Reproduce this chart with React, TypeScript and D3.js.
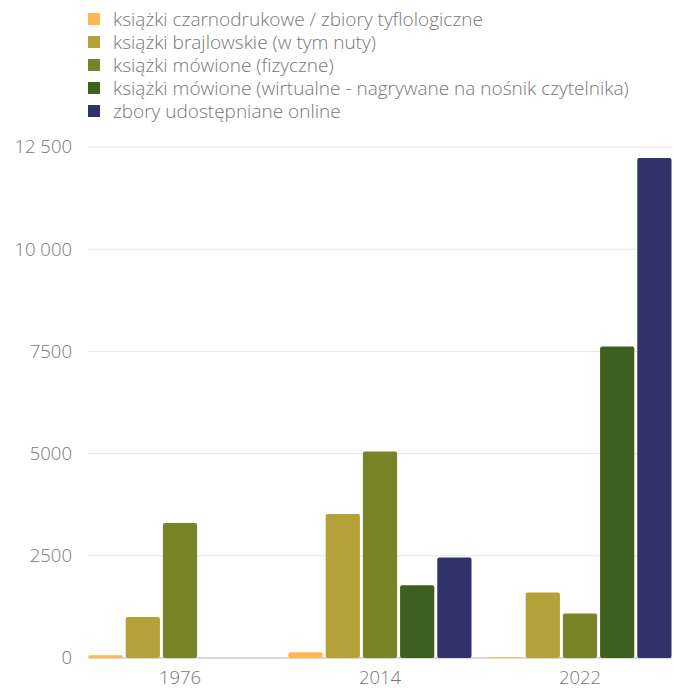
import React from "react";
import * as d3 from "d3";

const years = ["1976", "2014", "2022"];
const seriesNames = [
  "książki czarnodrukowe / zbiory tyflologiczne",
  "książki brajlowskie (w tym nuty)",
  "książki mówione (fizyczne)",
  "książki mówione (wirtualne - nagrywane na nośnik czytelnika)",
  "zbory udostępniane online",
];
const seriesColors = ["#ffb84f", "#b5a13a", "#788427", "#3d601e", "#2f336a"];
const czarnodrukowe = [70, 140, 20];
const brajlowskie = [1000, 3520, 1600];
const mowioneFizyczne = [3300, 5050, 1090];
const mowioneWirtualne = [0, 1780, 7620];
const online = [0, 2460, 12230];
const yTicks = [0, 2500, 5000, 7500, 10000, 12500];

const seriesValues = [czarnodrukowe, brajlowskie, mowioneFizyczne, mowioneWirtualne, online];

const W = 673;
const H = 688;
const font = "'Open Sans', sans-serif";
const fs = 18.5;
const legendFs = 19;
const fw = 300;
const txt = "#777777";

const fmt = (v: number) => {
  if (v >= 10000) {
    const s = String(v);
    return s.slice(0, s.length - 3) + " " + s.slice(s.length - 3);
  }
  return String(v);
};

export default function App() {
  const x0 = d3.scaleBand<string>().domain(years).range([80, 680]).paddingInner(0.085).paddingOuter(0.0425);
  const x1 = d3
    .scaleBand<number>()
    .domain(d3.range(seriesNames.length))
    .range([0, x0.bandwidth()])
    .paddingInner(0.08);
  const y = d3.scaleLinear().domain([0, 12500]).range([658, 147]);

  return (
    <svg
      width={W}
      height={H}
      style={{ position: "absolute", left: 0, top: 0, background: "#fff" }}
      fontFamily={font}
    >
      {/* legend */}
      {seriesNames.map((name, i) => (
        <g key={name} transform={`translate(88, ${19 + i * 23})`}>
          <rect x={0} y={-6} width={12} height={12} fill={seriesColors[i]} />
          <text x={25} y={0} dy="0.35em" fontSize={legendFs} fontWeight={fw} fill={txt}>
            {name}
          </text>
        </g>
      ))}

      {/* gridlines and y labels */}
      {yTicks.map((t) => (
        <g key={t}>
          {t > 0 && <line x1={88} x2={672} y1={y(t)} y2={y(t)} stroke="#e6e6e6" strokeWidth={1} />}
          <text x={72} y={y(t)} dy="0.35em" textAnchor="end" fontSize={fs} fontWeight={fw} fill={txt}>
            {fmt(t)}
          </text>
        </g>
      ))}

      {/* baseline */}
      <line x1={88} x2={672} y1={y(0)} y2={y(0)} stroke="#cccccc" strokeWidth={1.5} />

      {/* bars */}
      {years.map((yr, gi) => (
        <g key={yr} transform={`translate(${x0(yr)},0)`}>
          {seriesValues.map((vals, si) => {
            const v = vals[gi];
            if (v <= 0) return null;
            const h = y(0) - y(v);
            return (
              <rect
                key={si}
                x={x1(si)}
                y={y(v)}
                width={x1.bandwidth()}
                height={h}
                rx={Math.min(2, h / 2)}
                fill={seriesColors[si]}
              />
            );
          })}
        </g>
      ))}

      {/* x labels */}
      {years.map((yr) => (
        <text
          key={yr}
          x={(x0(yr) as number) + x0.bandwidth() / 2}
          y={678}
          dy="0.35em"
          textAnchor="middle"
          fontSize={fs}
          fontWeight={fw}
          fill={txt}
        >
          {yr}
        </text>
      ))}
    </svg>
  );
}
